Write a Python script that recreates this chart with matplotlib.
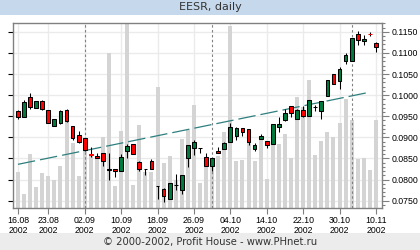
import matplotlib
matplotlib.use('Agg')
import matplotlib.pyplot as plt
from matplotlib.patches import Rectangle
from matplotlib.ticker import MultipleLocator, FormatStrFormatter, FixedLocator

# daily candles, 16.08.2002 - 10.11.2002
opens  = [0.0962, 0.0947, 0.0996, 0.0969, 0.0986, 0.0964, 0.0926, 0.0933, 0.0965, 0.0926,
          0.0905, 0.0898, 0.0860, 0.0856, 0.0862, 0.0826, 0.0826, 0.0819, 0.0867, 0.0883,
          0.0841, 0.0826, 0.0843, 0.0784, 0.0777, 0.0753, 0.0788, 0.0774, 0.0851, 0.0874,
          0.0874, 0.0853, 0.0831, 0.0867, 0.0873, 0.0890, 0.0902, 0.0921, 0.0919, 0.0873,
          0.0895, 0.0892, 0.0885, 0.0925, 0.0941, 0.0975, 0.0944, 0.0964, 0.0950, 0.0972,
          0.0962, 0.0999, 0.1049, 0.1034, 0.1082, 0.1082, 0.1144, 0.1129, 0.1146, 0.1123]
highs  = [0.0965, 0.0988, 0.1005, 0.0985, 0.0988, 0.0964, 0.0943, 0.0965, 0.0967, 0.0926,
          0.0915, 0.0898, 0.0877, 0.0862, 0.0862, 0.0862, 0.0826, 0.0860, 0.0884, 0.0883,
          0.0844, 0.0826, 0.0848, 0.0784, 0.0779, 0.0791, 0.0813, 0.0811, 0.0881, 0.0894,
          0.0874, 0.0864, 0.0851, 0.0878, 0.0890, 0.0935, 0.0925, 0.0921, 0.0919, 0.0886,
          0.0908, 0.0892, 0.0931, 0.0947, 0.0966, 0.0975, 0.0967, 0.0975, 0.0988, 0.0977,
          0.0986, 0.1037, 0.1049, 0.1066, 0.1099, 0.1135, 0.1152, 0.1142, 0.1149, 0.1125]
lows   = [0.0944, 0.0947, 0.0966, 0.0969, 0.0965, 0.0933, 0.0926, 0.0931, 0.0936, 0.0894,
          0.0886, 0.0868, 0.0854, 0.0850, 0.0833, 0.0800, 0.0807, 0.0819, 0.0850, 0.0860,
          0.0821, 0.0810, 0.0824, 0.0754, 0.0747, 0.0753, 0.0775, 0.0766, 0.0830, 0.0858,
          0.0862, 0.0831, 0.0819, 0.0862, 0.0873, 0.0890, 0.0894, 0.0902, 0.0882, 0.0868,
          0.0895, 0.0875, 0.0883, 0.0913, 0.0939, 0.0947, 0.0943, 0.0947, 0.0950, 0.0962,
          0.0943, 0.0999, 0.1026, 0.1014, 0.1073, 0.1082, 0.1118, 0.1119, 0.1141, 0.1101]
closes = [0.0949, 0.0983, 0.0971, 0.0985, 0.0966, 0.0933, 0.0943, 0.0962, 0.0938, 0.0898,
          0.0888, 0.0871, 0.0859, 0.0850, 0.0845, 0.0822, 0.0819, 0.0853, 0.0879, 0.0860,
          0.0824, 0.0826, 0.0826, 0.0784, 0.0762, 0.0791, 0.0788, 0.0811, 0.0881, 0.0888,
          0.0874, 0.0831, 0.0851, 0.0862, 0.0886, 0.0924, 0.0921, 0.0912, 0.0890, 0.0881,
          0.0903, 0.0881, 0.0931, 0.0931, 0.0958, 0.0957, 0.0964, 0.0950, 0.0988, 0.0972,
          0.0986, 0.1037, 0.1026, 0.1062, 0.1096, 0.1135, 0.1130, 0.1134, 0.1145, 0.1113]
volumes = [36, 14, 54, 21, 35, 32, 28, 42, 86, 65,
           32, 58, 53, 52, 71, 155, 22, 77, 185, 23,
           83, 36, 36, 121, 45, 52, 28, 69, 78, 103,
           25, 51, 41, 52, 76, 182, 47, 48, 68, 47,
           68, 29, 65, 64, 74, 50, 111, 101, 128, 53,
           67, 76, 71, 85, 109, 88, 49, 50, 38, 88]

tick_idx = [0, 5, 11, 17, 23, 29, 35, 41, 47, 53, 59]
tick_labels = ['16.08\n2002', '23.08\n2002', '02.09\n2002', '10.09\n2002', '18.09\n2002',
               '26.09\n2002', '04.10\n2002', '14.10\n2002', '22.10\n2002', '30.10\n2002',
               '10.11\n2002']
month_idx = [11, 32, 55]          # first trading day of each month
trend_idx = [0, 58]
trend_val = [0.0836, 0.1007]

W, H = 420, 250
fig = plt.figure(figsize=(W / 100, H / 100), dpi=100)
fig.patch.set_facecolor('white')

# header / footer bands
fig.patches.append(Rectangle((0, 1 - 15 / H), 1, 15 / H, transform=fig.transFigure,
                             facecolor='#c6d9ec', edgecolor='none', zorder=0))
fig.patches.append(Rectangle((0, 0), 1, 17 / H, transform=fig.transFigure,
                             facecolor='#ececec', edgecolor='none', zorder=0))
fig.text(0.5, 1 - 7.5 / H, 'EESR, daily', ha='center', va='center', fontsize=8,
         color='#333333', family='DejaVu Sans')
fig.text(0.5, 8.5 / H, '\u00a9 2000-2002, Profit House - www.PHnet.ru', ha='center',
         va='center', fontsize=7.2, color='#333333', family='DejaVu Sans')

rect = [13 / W, 42 / H, 369 / W, 185 / H]
ylo, yhi = 0.07325, 0.11709
xlo, xhi = -0.82, 60.0

# bottom layer: grid + x ticks
ax = fig.add_axes(rect)
ax.set_xlim(xlo, xhi)
ax.set_ylim(ylo, yhi)
ax.yaxis.set_major_locator(MultipleLocator(0.005))
ax.set_yticklabels([])
ax.tick_params(axis='y', left=False, right=False)
ax.xaxis.set_major_locator(FixedLocator(tick_idx))
ax.set_xticklabels(tick_labels, fontsize=6.3, family='Liberation Sans', linespacing=1.15)
ax.tick_params(axis='x', direction='out', length=4, width=0.8, color='#808080', pad=2)
ax.grid(True, color='#ebebeb', linewidth=1.0)
for s in ax.spines.values():
    s.set_visible(False)

# volume layer
axv = ax.twinx()
axv.set_ylim(0, 185)
axv.bar(range(len(volumes)), volumes, width=0.66, color='#d4d4d4', zorder=1)
for m in month_idx:
    axv.axvline(m, color='#808080', linewidth=0.8, dashes=(2.2, 2.2), zorder=3)
axv.set_yticks([])
for s in axv.spines.values():
    s.set_visible(False)

# price layer
axp = ax.twinx()
axp.set_ylim(ylo, yhi)
axp.set_xlim(xlo, xhi)
axp.plot(trend_idx, trend_val, color='#2f7f7f', linewidth=0.9, dashes=(14, 4), zorder=2)

x = list(range(len(opens)))
axp.vlines(x, lows, highs, color='black', linewidth=0.75, zorder=3)
body_col, edge_col, bottoms, heights = [], [], [], []
for o, c in zip(opens, closes):
    fc = '#007a3d' if c > o else '#ff0000'
    ec = 'black'
    if c < o and o - c < 0.0002:
        ec = fc
    body_col.append(fc)
    edge_col.append(ec)
    bottoms.append(min(o, c))
    heights.append(abs(c - o))
axp.bar(x, heights, bottom=bottoms, width=0.62, color=body_col, edgecolor=edge_col,
        linewidth=0.75, zorder=4)

axp.yaxis.set_major_locator(MultipleLocator(0.005))
axp.yaxis.set_minor_locator(MultipleLocator(0.001))
axp.yaxis.set_major_formatter(FormatStrFormatter('%.4f'))
axp.tick_params(axis='y', which='major', direction='out', length=5, width=0.8,
                color='#808080', labelsize=6.3, pad=2)
axp.tick_params(axis='y', which='minor', direction='out', length=2, width=0.8,
                color='#808080')
for lab in axp.get_yticklabels():
    lab.set_family('Liberation Sans')
for s in axp.spines.values():
    s.set_color('#808080')
    s.set_linewidth(1.0)

fig.savefig('out.png', dpi=100)
